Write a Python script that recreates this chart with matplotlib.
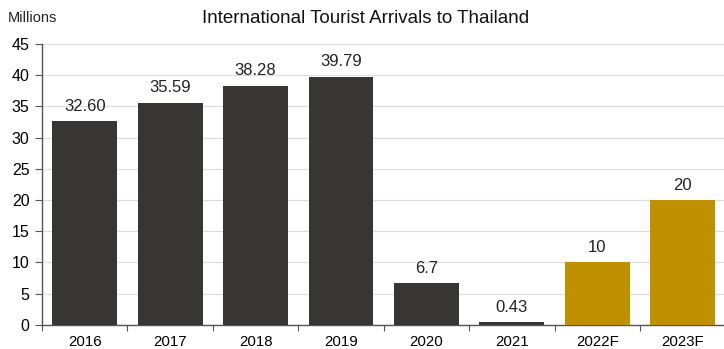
import matplotlib

matplotlib.use("Agg")
import matplotlib.pyplot as plt

years = ["2016", "2017", "2018", "2019", "2020", "2021", "2022F", "2023F"]
arrivals = [32.60, 35.59, 38.28, 39.79, 6.7, 0.43, 10, 20]
value_labels = ["32.60", "35.59", "38.28", "39.79", "6.7", "0.43", "10", "20"]
is_forecast = [False, False, False, False, False, False, True, True]

DARK = "#383635"
GOLD = "#BF9000"

plt.rcParams["font.family"] = ["Liberation Sans", "DejaVu Sans"]

fig = plt.figure(figsize=(7.24, 3.49), dpi=100)
ax = fig.add_axes([0.058, 0.069, 0.944, 0.805])

x = list(range(len(years)))
colors = [GOLD if f else DARK for f in is_forecast]
bars = ax.bar(x, arrivals, width=0.76, color=colors, zorder=3)

for b, lab in zip(bars, value_labels):
    ax.text(b.get_x() + b.get_width() / 2, b.get_height() + 1.2, lab,
            ha="center", va="bottom", fontsize=12, color="#222222")

ax.set_xlim(-0.5, len(years) - 0.5)
ax.set_ylim(0, 45)
ax.set_yticks(range(0, 46, 5))
ax.yaxis.grid(True, color="#dddddd", linewidth=0.9, zorder=0)

# x ticks sit on category boundaries, labels at centres
ax.set_xticks([i - 0.5 for i in range(len(years) + 1)])
ax.set_xticklabels([])
ax.set_xticks(x, minor=True)
ax.set_xticklabels(years, minor=True, fontsize=10.8)
ax.tick_params(axis="x", which="minor", length=0, pad=7)
ax.tick_params(axis="x", which="major", length=4, direction="out", color="#555555")
ax.tick_params(axis="y", length=5, direction="out", color="#555555", labelsize=11.5, pad=4)

for s in ["top", "right"]:
    ax.spines[s].set_visible(False)
for s in ["left", "bottom"]:
    ax.spines[s].set_color("#555555")
    ax.spines[s].set_linewidth(1.0)

fig.text(0.505, 0.947, "International Tourist Arrivals to Thailand",
         ha="center", va="center", fontsize=13.5, color="#111111")
fig.text(0.011, 0.947, "Millions", ha="left", va="center", fontsize=10.5, color="#222222")

fig.savefig("out.png", dpi=100)
